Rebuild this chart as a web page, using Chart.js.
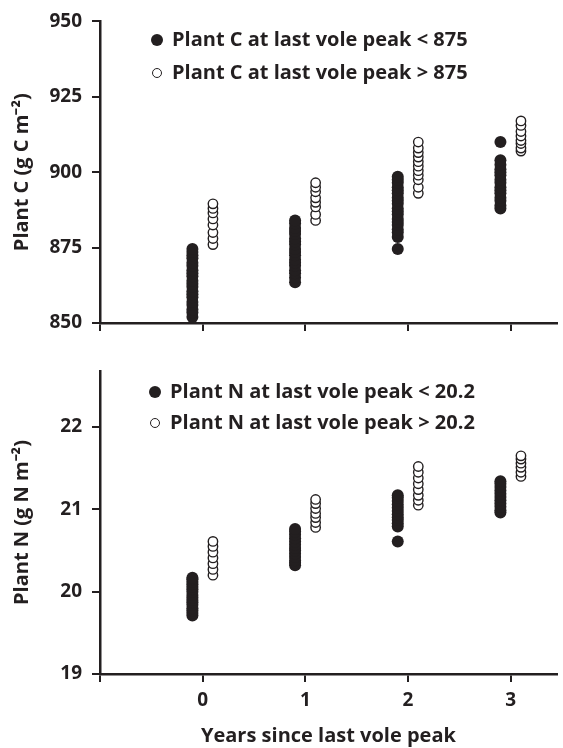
<!DOCTYPE html>
<html>
<head>
<meta charset="utf-8">
<script src="https://cdn.jsdelivr.net/npm/chart.js@4.4.1/dist/chart.umd.min.js"></script>
<style>
  body { margin: 0; background: #fff; }
  #wrap { position: relative; width: 563px; height: 748px; font-family: "Open Sans", sans-serif; color: #231f20; }
  #wrap canvas { position: absolute; left: 0; }
  .mark { position: absolute; border-radius: 50%; box-sizing: border-box; }
  .label { position: absolute; font-weight: bold; font-size: 20px; line-height: 22px; white-space: nowrap; }
</style>
</head>
<body>
<div id="wrap">
  <canvas id="plantC" width="563" height="345" style="top:0"></canvas>
  <canvas id="plantN" width="563" height="403" style="top:345px"></canvas>
</div>
<script>
// Values, one list per year since the last vole peak
const years = [0, 1, 2, 3];
const xShift = 0.1;

const plantCLow = [
    [852, 853.5, 854.5, 856, 857, 858.5, 859.5, 860.5, 862, 863, 864, 865.5, 866.5, 867.5, 869, 870, 871.5, 872.5, 873.5, 874.5],
    [863.5, 865, 866.5, 867.5, 869, 870, 871, 872.5, 873.5, 874.5, 876, 877, 878, 879.5, 880.5, 881.5, 883, 884],
    [874.5, 878.5, 880, 881, 882.5, 883.5, 884.5, 886, 887, 888, 889.5, 890.5, 891.5, 893, 894, 895, 896.5, 897.5, 898.5],
    [888, 889, 890.5, 891.5, 893, 894, 895, 896.5, 897.5, 899, 900, 901, 902.5, 904, 910]
];
const plantCHigh = [
    [876, 878, 880, 882.5, 884.5, 886.5, 888, 889.5],
    [884, 886, 888.5, 890, 891.5, 893.5, 895, 896.5],
    [893, 895, 897.5, 899, 900.5, 902, 903.5, 905, 906.5, 908, 910],
    [907, 908, 909.5, 910.5, 912, 913.5, 915.5, 917]
];
const plantNLow = [
    [19.71, 19.74, 19.77, 19.80, 19.84, 19.87, 19.90, 19.93, 19.96, 20.00, 20.03, 20.06, 20.09, 20.12, 20.15, 20.17],
    [20.32, 20.35, 20.38, 20.42, 20.46, 20.50, 20.53, 20.57, 20.61, 20.65, 20.69, 20.73, 20.76],
    [20.61, 20.79, 20.83, 20.87, 20.90, 20.94, 20.98, 21.02, 21.06, 21.10, 21.14, 21.17],
    [20.96, 20.99, 21.03, 21.07, 21.11, 21.15, 21.19, 21.23, 21.27, 21.31, 21.34]
];
const plantNHigh = [
    [20.20, 20.27, 20.34, 20.41, 20.48, 20.55, 20.61],
    [20.78, 20.84, 20.90, 20.95, 21.01, 21.07, 21.12],
    [21.05, 21.11, 21.17, 21.24, 21.31, 21.38, 21.45, 21.52],
    [21.40, 21.45, 21.51, 21.56, 21.61, 21.65]
];

const legendC = ['Plant C at last vole peak < 875', 'Plant C at last vole peak > 875'];
const legendN = ['Plant N at last vole peak < 20.2', 'Plant N at last vole peak > 20.2'];
const xTitle = 'Years since last vole peak';
const yTitleC = 'Plant C (g C m\u207B\u00B2)';
const yTitleN = 'Plant N (g N m\u207B\u00B2)';

const ink = '#231f20';

Chart.defaults.font.family = '"Open Sans", sans-serif';
Chart.defaults.font.weight = 'bold';
Chart.defaults.color = ink;

function toPoints(groups, shift) {
    return groups.flatMap((vals, i) => vals.map(v => ({ x: years[i] + shift, y: v })));
}

function makePanel(id, low, high, yOpts, showX, axisH, padTop) {
    const ctx = document.getElementById(id).getContext('2d');
    return new Chart(ctx, {
        type: 'scatter',
        data: {
            datasets: [{
                data: toPoints(low, -xShift),
                backgroundColor: ink,
                borderColor: ink,
                borderWidth: 0,
                pointRadius: 6
            }, {
                data: toPoints(high, xShift),
                backgroundColor: '#ffffff',
                borderColor: ink,
                borderWidth: 1.4,
                pointRadius: 4.7
            }]
        },
        options: {
            responsive: false,
            animation: false,
            layout: { padding: { top: padTop, left: 0, right: 0, bottom: 0 } },
            plugins: { legend: { display: false }, tooltip: { enabled: false } },
            scales: {
                x: {
                    type: 'linear',
                    min: -1,
                    max: 3.45,
                    afterFit: s => { s.height = axisH; },
                    border: { color: ink, width: 2.5 },
                    grid: { drawOnChartArea: false, color: ink, lineWidth: 2, tickLength: 8 },
                    ticks: {
                        stepSize: 1,
                        includeBounds: false,
                        padding: 7,
                        font: { size: 19 },
                        callback: v => (showX && v >= 0 ? v : '')
                    },
                    title: {
                        display: showX,
                        text: xTitle,
                        font: { size: 20 },
                        padding: { top: 0, bottom: 0 }
                    }
                },
                y: {
                    min: yOpts.min,
                    max: yOpts.max,
                    afterFit: s => { s.width = 100; },
                    border: { color: ink, width: 2.5 },
                    grid: { drawOnChartArea: false, color: ink, lineWidth: 2, tickLength: 8 },
                    ticks: {
                        stepSize: yOpts.step,
                        includeBounds: false,
                        padding: 10,
                        font: { size: 19 }
                    },
                    title: {
                        display: true,
                        text: yOpts.title,
                        font: { size: 20 },
                        padding: { top: 10, bottom: 0 }
                    }
                }
            }
        }
    });
}

function makeLegend(labels, x, y, gap) {
    const wrap = document.getElementById('wrap');
    labels.forEach((text, i) => {
        const cy = y + i * gap;
        const m = document.createElement('div');
        m.className = 'mark';
        const d = i === 0 ? 12 : 10.5;
        m.style.width = d + 'px';
        m.style.height = d + 'px';
        m.style.left = (x - d / 2) + 'px';
        m.style.top = (cy - d / 2) + 'px';
        m.style.background = i === 0 ? ink : '#fff';
        m.style.border = i === 0 ? 'none' : '1.4px solid ' + ink;
        wrap.appendChild(m);
        const t = document.createElement('div');
        t.className = 'label';
        t.textContent = text;
        t.style.left = (x + 15) + 'px';
        t.style.top = (cy - 12) + 'px';
        wrap.appendChild(t);
    });
}

makePanel('plantC', plantCLow, plantCHigh, { min: 850, max: 950, step: 25, title: yTitleC }, false, 22, 17);
makePanel('plantN', plantNLow, plantNHigh, { min: 19, max: 22.68, step: 1, title: yTitleN }, true, 74, 26);
makeLegend(legendC, 157, 40, 33);
makeLegend(legendN, 155, 392, 31);
</script>
</body>
</html>
